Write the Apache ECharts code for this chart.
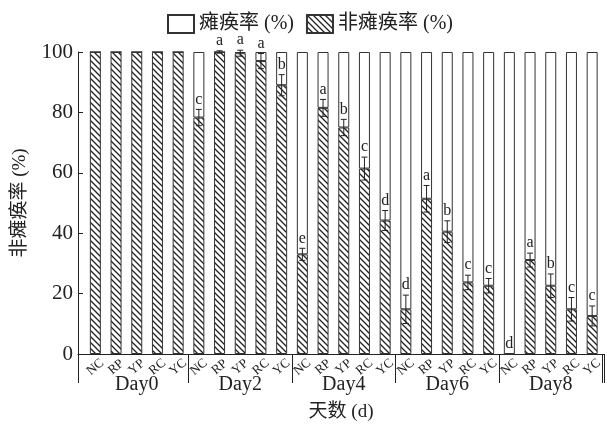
<!DOCTYPE html>
<html>
<head>
<meta charset="utf-8">
<script src="https://cdn.jsdelivr.net/npm/echarts@6/dist/echarts.min.js"></script>
<style>
  html, body { margin: 0; padding: 0; background: #fff; }
  #chart { width: 607px; height: 432px; }
</style>
</head>
<body>
<div id="chart"></div>
<script>
const days = ['Day0', 'Day2', 'Day4', 'Day6', 'Day8']
const groups = ['NC', 'RP', 'YP', 'RC', 'YC']

// 非瘫痪率 (%) per day, order NC RP YP RC YC
const nonParalysis = [
  100, 100, 100, 100, 100,
  78.3, 100, 99.6, 97, 89,
  33, 81.5, 75, 61.4, 44.2,
  14.8, 51.4, 40.5, 23.7, 22.6,
  0, 31.1, 22.6, 14.8, 12.6
]
const errors = [
  0, 0, 0, 0, 0,
  2.7, 0.4, 1, 2.5, 3.5,
  2, 2.8, 2.7, 3.8, 3.3,
  4.7, 4.4, 3.6, 2.4, 2.4,
  0, 2.3, 3.9, 3.9, 3.3
]
const letters = [
  '', '', '', '', '',
  'c', 'a', 'a', 'a', 'b',
  'e', 'a', 'b', 'c', 'd',
  'd', 'a', 'b', 'c', 'c',
  'd', 'a', 'b', 'c', 'c'
]

const categories = []
days.forEach(() => groups.forEach(g => categories.push(g)))
const paralysis = nonParalysis.map(v => +(100 - v).toFixed(1))

const FONT = "'Liberation Serif', 'Noto Sans CJK SC', serif"

function hatchPattern() {
  const c = document.createElement('canvas')
  c.width = 6
  c.height = 6
  const ctx = c.getContext('2d')
  ctx.fillStyle = '#fff'
  ctx.fillRect(0, 0, 6, 6)
  ctx.strokeStyle = '#222'
  ctx.lineWidth = 1.3
  ctx.beginPath()
  ctx.moveTo(-1, -1); ctx.lineTo(7, 7)
  ctx.moveTo(-4, 2); ctx.lineTo(2, 8)
  ctx.moveTo(2, -4); ctx.lineTo(8, 2)
  ctx.stroke()
  return { image: c, repeat: 'repeat' }
}

const hatch = hatchPattern()
const chart = echarts.init(document.getElementById('chart'))

const option = {
  animation: false,
  textStyle: { fontFamily: FONT, color: '#222' },
  legend: {
    top: 9,
    left: 162,
    icon: 'rect',
    itemWidth: 26,
    itemHeight: 18,
    itemGap: 12,
    data: ['瘫痪率 (%)', '非瘫痪率 (%)'],
    textStyle: { fontFamily: FONT, fontSize: 20, color: '#222' }
  },
  grid: [
    { left: 85, right: 4.5, top: 52, bottom: 78 },
    { left: 78, right: 3, top: 52, bottom: 78 }
  ],
  xAxis: [
    {
      type: 'category',
      gridIndex: 0,
      data: categories,
      position: 'bottom',
      axisLine: { show: false },
      axisTick: { show: false },
      axisLabel: {
        interval: 0,
        rotate: 40,
        margin: 13,
        align: 'center',
        verticalAlign: 'middle',
        fontSize: 13,
        fontFamily: FONT,
        color: '#222'
      }
    },
    {
      type: 'category',
      gridIndex: 0,
      data: days,
      position: 'bottom',
      axisLine: { show: false },
      axisTick: {
        show: true,
        length: 29,
        interval: (idx) => idx > 0 && idx < 5,
        lineStyle: { color: '#222', width: 1 }
      },
      axisLabel: { margin: 21, fontSize: 20, fontFamily: FONT, color: '#222' }
    },
    {
      type: 'category',
      gridIndex: 1,
      data: [''],
      position: 'bottom',
      axisLine: { show: true, lineStyle: { color: '#222', width: 1 } },
      axisTick: { show: true, length: 29, lineStyle: { color: '#222', width: 1 } },
      axisLabel: { show: false },
      name: '天数 (d)',
      nameLocation: 'middle',
      nameGap: 49,
      nameTextStyle: { fontSize: 19, fontFamily: FONT, color: '#222' }
    }
  ],
  yAxis: [
    { type: 'value', gridIndex: 0, min: 0, max: 100, show: false },
    {
      type: 'value',
      gridIndex: 1,
      min: 0,
      max: 100,
      interval: 20,
      splitLine: { show: false },
      axisLine: { show: true, lineStyle: { color: '#222', width: 1 } },
      axisTick: { show: true, inside: true, length: 5, lineStyle: { color: '#222' } },
      axisLabel: { fontSize: 21, margin: 5, fontFamily: FONT, color: '#222' },
      name: '非瘫痪率 (%)',
      nameLocation: 'middle',
      nameGap: 48,
      nameTextStyle: { fontSize: 19, fontFamily: FONT, color: '#222' }
    }
  ],
  series: [
    {
      name: '非瘫痪率 (%)',
      type: 'bar',
      stack: 'total',
      xAxisIndex: 0,
      yAxisIndex: 0,
      barWidth: 11,
      data: nonParalysis,
      itemStyle: { color: hatch, borderColor: '#333', borderWidth: 1 }
    },
    {
      name: '瘫痪率 (%)',
      type: 'bar',
      stack: 'total',
      xAxisIndex: 0,
      yAxisIndex: 0,
      barWidth: 11,
      data: paralysis,
      itemStyle: { color: '#fff', borderColor: '#333', borderWidth: 1 }
    },
    {
      type: 'custom',
      xAxisIndex: 0,
      yAxisIndex: 0,
      z: 10,
      data: nonParalysis.map((v, i) => [i, v, errors[i]]),
      renderItem: (params, api) => {
        const i = api.value(0)
        const v = api.value(1)
        const e = api.value(2)
        const top = api.coord([i, v + e])
        const bot = api.coord([i, v - e])
        const cap = 3
        const children = []
        if (e > 0) {
          const style = { stroke: '#222', lineWidth: 1 }
          children.push({ type: 'line', shape: { x1: top[0], y1: top[1], x2: bot[0], y2: bot[1] }, style })
          children.push({ type: 'line', shape: { x1: top[0] - cap, y1: top[1], x2: top[0] + cap, y2: top[1] }, style })
          children.push({ type: 'line', shape: { x1: bot[0] - cap, y1: bot[1], x2: bot[0] + cap, y2: bot[1] }, style })
        }
        const letter = letters[params.dataIndex]
        if (letter) {
          children.push({
            type: 'text',
            style: {
              text: letter,
              x: top[0],
              y: top[1] - 2,
              align: 'center',
              verticalAlign: 'bottom',
              fontSize: 16,
              fontFamily: FONT,
              fill: '#222'
            }
          })
        }
        return { type: 'group', children }
      }
    }
  ]
}

chart.setOption(option)
</script>
</body>
</html>
